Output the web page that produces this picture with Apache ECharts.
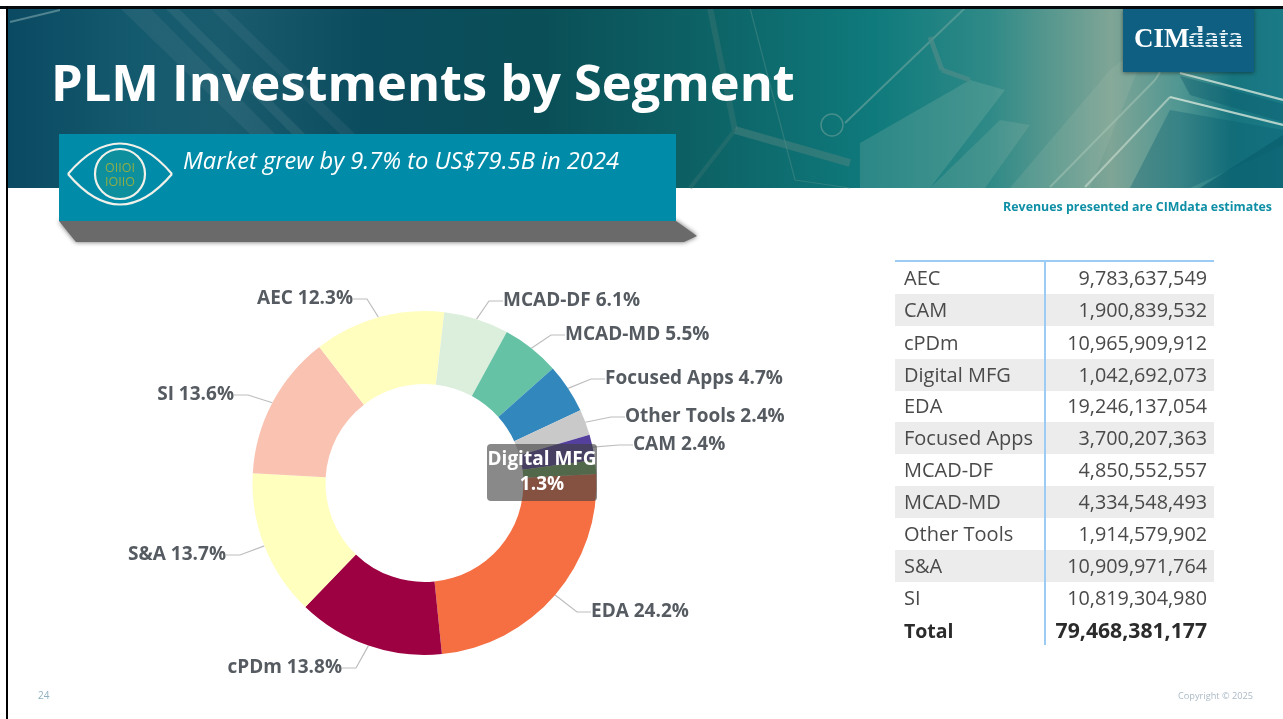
<!DOCTYPE html>
<html><head><meta charset="utf-8">
<style>html,body{margin:0;padding:0;background:#fff}#c{width:1283px;height:719px}</style>
<script src="https://cdn.jsdelivr.net/npm/echarts@6/dist/echarts.min.js"></script>
</head><body><div id="c"></div>
<script>
// ---- data, as printed in the reference table (segment order of the table)
const tableNames = ['AEC','CAM','cPDm','Digital MFG','EDA','Focused Apps','MCAD-DF','MCAD-MD','Other Tools','S&A','SI'];
const tableValues = [9783637549,1900839532,10965909912,1042692073,19246137054,3700207363,4850552557,4334548493,1914579902,10909971764,10819304980];
const totalValue = 79468381177;
// ---- clockwise order of the donut, from just above 3 o'clock
const sliceOrder = ['EDA','cPDm','S&A','SI','AEC','MCAD-DF','MCAD-MD','Focused Apps','Other Tools','CAM','Digital MFG'];
const sliceColors = ['#F56F43','#9E0142','#FFFFBE','#F9C2B1','#FFFEBE','#DCEEDC','#66C2A5','#3288BD','#C9C9C9','#54409C','#6FA85C'];
// ---- label anchors (pixel layout only, not data)
const labelSpots = {
  'EDA':[591,612,'left'],'cPDm':[342,668,'right'],'S&A':[226,555,'right'],'SI':[234,395,'right'],
  'AEC':[353,299,'right'],'MCAD-DF':[503,301,'left'],'MCAD-MD':[565,335,'left'],'Focused Apps':[605,379,'left'],
  'Other Tools':[625,417,'left'],'CAM':[633,445,'left'],'Digital MFG':[542,472.5,'center']
};
const fmt = v => v.toLocaleString('en-US');
const FONT = '"Open Sans", sans-serif';
const g = [];
const rect = (x,y,w,h,fill,z,extra) => g.push({type:'rect',shape:Object.assign({x,y,width:w,height:h},extra&&extra.shape),style:Object.assign({fill},extra&&extra.style),z:z||1,silent:true});
const poly = (pts,fill,opacity,z) => g.push({type:'polygon',shape:{points:pts},style:{fill,opacity},z:z||2,silent:true});
const line = (x1,y1,x2,y2,stroke,w,opacity,z) => g.push({type:'line',shape:{x1,y1,x2,y2},style:{stroke,lineWidth:w,opacity},z:z||2,silent:true});
const text = (x,y,t,font,fill,align,z) => g.push({type:'text',x,y,style:{text:t,font,fill,align:align||'left',verticalAlign:'middle'},z:z||10,silent:true});
const linear = (stops) => ({type:'linear',x:0,y:0,x2:1,y2:0,colorStops:stops});

// banner
rect(8,8,1275,180,linear([
  {offset:0,color:'#0A4A62'},{offset:.1,color:'#145A6E'},{offset:.17,color:'#1A5C6E'},{offset:.28,color:'#0B4C5E'},{offset:.42,color:'#0A4F57'},
  {offset:.55,color:'#0D6366'},{offset:.68,color:'#0F7A7C'},{offset:.77,color:'#2F8A87'},{offset:.865,color:'#7FA596'},
  {offset:.92,color:'#4F9692'},{offset:.96,color:'#17757F'},{offset:1,color:'#1A7A86'}]));
// banner texture: pale diagonal panels and circuit traces
poly([[860,188],[860,143],[970,80],[1005,90],[930,188]],'#9DBFB0',.22);
poly([[930,188],[1000,120],[1030,125],[985,188]],'#A8C4B4',.18);
poly([[1010,188],[1110,70],[1150,40],[1090,188]],'#B5CBB8',.15);
poly([[1200,188],[1283,135],[1283,188]],'#06596A',.55);
poly([[1180,76],[1283,104],[1283,122],[1190,95]],'#0A5A6C',.4);
poly([[1170,110],[1283,130],[1283,145],[1190,188],[1130,188]],'#0A5F70',.35);
poly([[120,8],[150,8],[275,134],[250,134]],'#7A98A0',.14);
poly([[165,8],[178,8],[305,134],[292,134]],'#8AA4AC',.14);
poly([[210,8],[225,8],[355,134],[340,134]],'#7E98A2',.12);
line(10,22,60,10,'#7FA7AE',2,.6);
line(710,8,735,130,'#3B7573',6,.45);
line(735,130,850,163,'#4F8480',8,.5);
line(735,130,690,188,'#3B7573',4,.4);
line(750,8,795,180,'#4D8B88',1.2,.5);
line(795,180,850,188,'#4D8B88',1.2,.5);
line(965,8,845,123,'#62A09A',2,.7);
line(930,37,942,70,'#4E8C89',5,.7);
line(942,70,970,80,'#4E8C89',5,.7);
line(1050,187,1155,80,'#A9C7B8',2,.5);
line(1155,80,1160,72,'#A9C7B8',2,.5);
line(1085,187,1170,97,'#CFE0D2',2,.6);
line(1170,97,1283,125,'#D6E6DA',2.2,.8);
line(1180,73,1283,100,'#D6E6DA',2.2,.8);
g.push({type:'circle',shape:{cx:832,cy:125,r:11},style:{fill:'none',stroke:'#5D9894',lineWidth:1.5,opacity:.7},z:2,silent:true});
// frame
rect(0,6,1283,3,'#050B0F',5);
rect(6,6,2,713,'#000000',5);
// logo
rect(1123,9,131,63,'#0F5F82',6,{style:{shadowBlur:4,shadowColor:'rgba(0,0,0,.45)',shadowOffsetY:1}});
text(1134,40,'CIM','bold 27px "Liberation Serif", serif','#FFFFFF','left',7);
text(1188,40,'data','bold 29px "Liberation Serif", serif','#E3EEF2','left',7);
[32,35,38,41,44,47].forEach(y=>rect(1187,y,58,1,'#0F5F82',8));
// title
text(51,87,'PLM Investments by Segment','bold 50.5px '+FONT,'#FFFFFF');
// callout shadow + box
poly([[59,221],[676,221],[697,236],[684,242],[76,242]],'#6A6A6A',1,3);
g[g.length-1].style.shadowBlur=5; g[g.length-1].style.shadowColor='rgba(60,60,60,.8)';
rect(59,134,617,87,'#008CA8',4);
// eye icon
const eyeStroke={fill:'none',stroke:'#F1F1EA',lineWidth:2.2};
g.push({type:'bezierCurve',shape:{x1:68,y1:174,x2:172,y2:174,cpx1:120,cpy1:113},style:eyeStroke,z:6,silent:true});
g.push({type:'bezierCurve',shape:{x1:68,y1:174,x2:172,y2:174,cpx1:120,cpy1:235},style:eyeStroke,z:6,silent:true});
g.push({type:'circle',shape:{cx:120,cy:174,r:25},style:{fill:'#0E8F9E',stroke:'#F1F1EA',lineWidth:2.2},z:6,silent:true});
text(120,168,'OIIOI','12.5px '+FONT,'#8FAE45','center');
text(120,182.5,'IOIIO','12.5px '+FONT,'#8FAE45','center');
text(183,162,'Market grew by 9.7% to US$79.5B in 2024','italic 23.7px '+FONT,'#FFFFFF');
// notes
text(1272,207,'Revenues presented are CIMdata estimates','bold 12.4px '+FONT,'#0F8FA6','right');
text(38,696.5,'24','10px '+FONT,'#8FB0C0');
text(1253,696.5,'Copyright © 2025','9.2px '+FONT,'#AAB9C6','right');
// table
const rowY = [279,311,344,376,407,439,471,503,535,567,599];
tableNames.forEach((n,i)=>{
  if(i%2===1) rect(895,rowY[i]-17,319,32,'#ECECEC',3);
  text(904,rowY[i],n,'20px '+FONT,'#4A4A4A');
  text(1207,rowY[i],fmt(tableValues[i]),'19.8px '+FONT,'#4A4A4A','right');
});
text(904,632,'Total','bold 19.5px '+FONT,'#2B2B2B');
text(1207,632,fmt(totalValue),'bold 21.2px '+FONT,'#2B2B2B','right');
rect(895,260,319,2,'#9CCBF5',4);
rect(1044,260,2,385,'#9CCBF5',4);

const sliceData = sliceOrder.map((n,i)=>{
  const item = {name:n,value:tableValues[tableNames.indexOf(n)],itemStyle:{color:sliceColors[i]}};
  if(n==='Digital MFG'){
    item.label={formatter:'{b}\n{d}%',color:'#FFFFFF',backgroundColor:'rgba(64,64,64,.62)',borderRadius:4,
      width:110,height:57,align:'center',verticalAlign:'middle',lineHeight:25,fontSize:19};
    item.labelLine={show:false};
  }
  return item;
});

const chart = echarts.init(document.getElementById('c'),null,{renderer:'canvas'});
chart.setOption({
  animation:false,
  graphic:{elements:g},
  series:[{
    type:'pie',center:[424.5,483],radius:[99,172],startAngle:3,clockwise:true,percentPrecision:1,
    silent:true,avoidLabelOverlap:false,z:5,data:sliceData,
    label:{show:true,formatter:'{b} {d}%',fontFamily:'"Open Sans", sans-serif',fontWeight:'bold',fontSize:19,color:'#555B61'},
    labelLine:{show:true,length:12,length2:14,lineStyle:{color:'#BDBDBD',width:1.2}},
    labelLayout:p=>{
      const name=sliceOrder[p.dataIndex], s=labelSpots[name];
      return {x:s[0],y:s[1],align:s[2],verticalAlign:'middle',hideOverlap:false};
    }
  }]
});
</script></body></html>
